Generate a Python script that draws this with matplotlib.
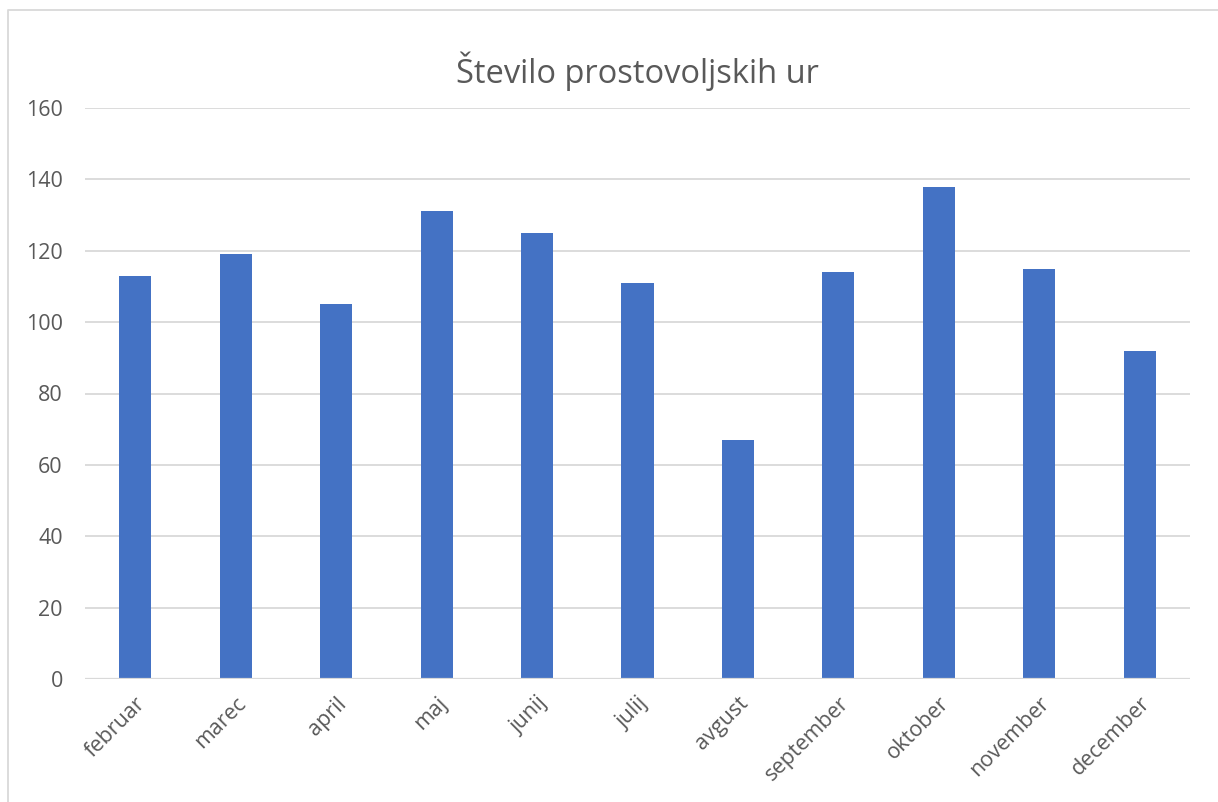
import matplotlib.pyplot as plt
from matplotlib.lines import Line2D

months = ["februar", "marec", "april", "maj", "junij", "julij", "avgust",
          "september", "oktober", "november", "december"]
hours = [113, 119, 105, 131, 125, 111, 67, 114, 138, 115, 92]
yticks = [0, 20, 40, 60, 80, 100, 120, 140, 160]

plt.rcParams['font.family'] = ['Open Sans', 'DejaVu Sans']
text_col = "#595959"
grid_col = "#D9D9D9"

fig = plt.figure(figsize=(12.18, 8.02), dpi=100)
ax = fig.add_axes([85 / 1218, 1 - 679 / 802, 1105 / 1218, 571 / 802])

x = list(range(len(months)))
ax.bar(x, hours, width=0.32, color="#4472C4", zorder=3)
ax.set_xlim(-0.5, len(months) - 0.5)
ax.set_ylim(0, 160)

ax.set_yticks(yticks)
ax.set_xticks(x, labels=months, rotation=45, ha="right", rotation_mode="anchor")
ax.tick_params(axis="both", length=0, labelsize=15.5, colors=text_col)
ax.tick_params(axis="y", pad=16)
ax.tick_params(axis="x", pad=10)
ax.grid(axis="y", color=grid_col, linewidth=1.3, zorder=0)
[s.set_visible(False) for s in ax.spines.values()]
ax.axhline(0, color=grid_col, linewidth=1.6, zorder=4)

fig.text(637 / 1218, 1 - 71 / 802, "Število prostovoljskih ur", ha="center", va="center",
         fontsize=23.5, color=text_col)

# chart frame (only top and left edges are in view)
fig.add_artist(Line2D([8 / 1218, 8 / 1218, 1], [0, 1 - 9.5 / 802, 1 - 9.5 / 802],
                      transform=fig.transFigure, color=grid_col, linewidth=1.3))

fig.savefig("out.png", dpi=100)
